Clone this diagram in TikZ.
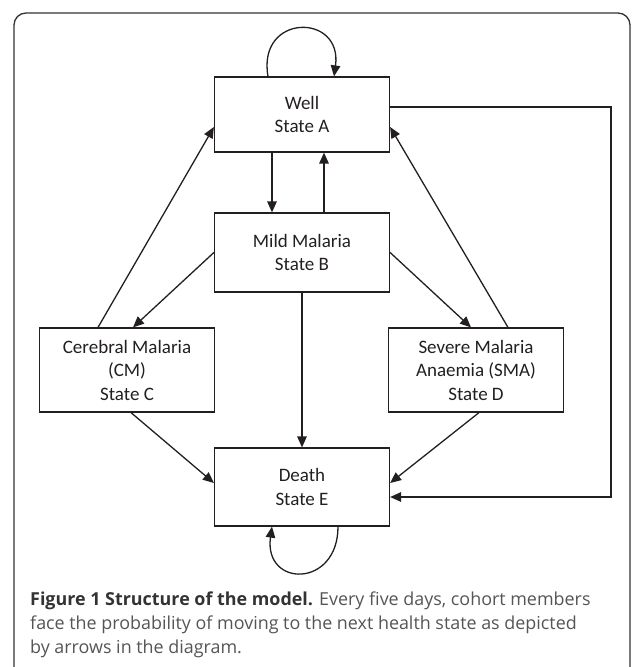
\documentclass[tikz,border=0pt]{standalone}
\usepackage{fontspec}
\setmainfont{Open Sans}
\newfontfamily\boxfont{Carlito}
\usetikzlibrary{arrows.meta}
\definecolor{ink}{HTML}{231F20}
\definecolor{capgray}{HTML}{555555}
\definecolor{capdark}{HTML}{333333}
\tikzset{
	state/.style={draw=ink, line width=1.2pt, minimum width=175pt, inner sep=0pt, align=center, text=ink, font=\boxfont\fontsize{19}{23.5}\selectfont},
	link/.style={draw=ink, line width=1.3pt, -{Triangle[length=11pt,width=9.5pt]}}
}
\begin{document}
\begin{tikzpicture}[x=1pt,y=1pt]%[overlay]
		\useasboundingbox (0,0) rectangle (633,-667);
		\clip (0,0) rectangle (633,-667);
		\coordinate (top) at (302,-114.5);
		\coordinate (middle) at (302,-252.5);
		\coordinate (left) at (127,-370);
		\coordinate (right) at (476,-370);
		\coordinate (bottom) at (302,-487);
		\coordinate (side) at (611,-497);

		\draw [capdark, line width=1.3pt, rounded corners=12pt] (14,-690) rectangle (630,-13);

		\node [state, minimum height=75pt] (well) at (top) {Well\\State A};
\node [state, minimum height=79pt] (mild) at (middle) {Mild Malaria\\State B};
\node [state, minimum height=84pt] (cerebral) at (left) {Cerebral Malaria\\(CM)\\State C};
\node [state, minimum height=84pt] (severe) at (right) {Severe Malaria\\Anaemia (SMA)\\State D};
\node [state, minimum height=78pt] (death) at (bottom) {Death\\State E};

		\draw [link] ([xshift=-34pt]well.north) to[out=100, in=82, looseness=2.5] ([xshift=32pt]well.north);
\draw [link] ([xshift=-30pt]well.south) -- ([xshift=-30pt]mild.north);
\draw [link] ([xshift=22pt]mild.north) -- ([xshift=22pt]well.south);
\draw [link] ([xshift=-29pt]cerebral.north) -- ([yshift=-12.5pt]well.west);
\draw [link] ([xshift=32pt]severe.north) -- ([yshift=-12.5pt]well.east);
\draw [link] (mild.west) -- ([xshift=6pt]cerebral.north);
\draw [link] (mild.east) -- ([xshift=-5pt]severe.north);
\draw [link] (mild.south) -- (death.north);
\draw [link] ([xshift=4pt]cerebral.south) -- ([yshift=4pt]death.west);
\draw [link] ([xshift=3pt]severe.south) -- ([yshift=4pt]death.east);
\draw [link] ([yshift=7.5pt]well.east) -| (side) -- ([yshift=-10pt]death.east);
\draw [link] ([xshift=36pt]death.south) to[out=-90, in=-98, looseness=2.4] ([xshift=-30pt]death.south);

		\node [anchor=north west, inner sep=0pt, align=left, text=capgray, font=\fontsize{17.9}{24}\selectfont] (caption) at (30,-591.5) {{\color{capdark}\bfseries Figure 1 Structure of the model.} Every five days, cohort members\\face the probability of moving to the next health state as depicted\\by arrows in the diagram.};
		\end{tikzpicture}
\end{document}
